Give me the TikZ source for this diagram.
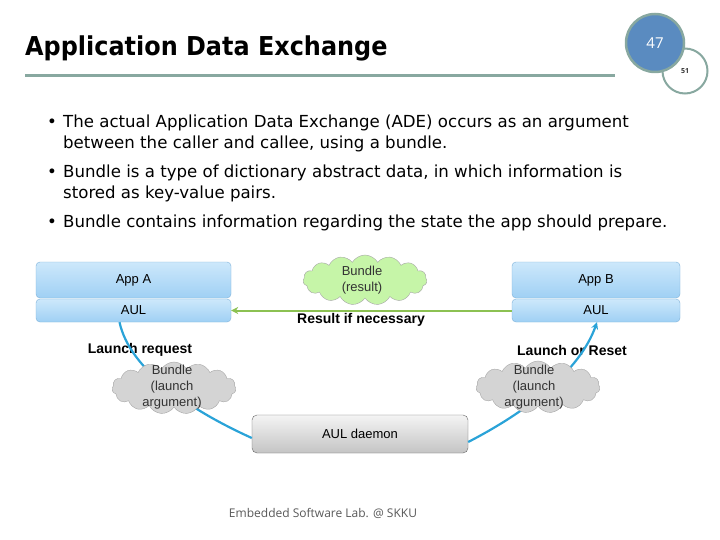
\documentclass[tikz,border=0pt]{standalone}
\usepackage{fontspec}
\usepackage{graphicx}
\setmainfont{DejaVu Sans}
\newfontfamily\diagfont{Liberation Sans}
\newfontfamily\footfont{Open Sans}
\usetikzlibrary{shapes.symbols,arrows.meta}
\definecolor{rulecol}{HTML}{88A8A0}
\definecolor{numblue}{HTML}{5A8BC0}
\definecolor{boxtop}{HTML}{CDE8FB}
\definecolor{boxbot}{HTML}{9FD0F4}
\definecolor{boxline}{HTML}{7FB2DA}
\definecolor{greytop}{HTML}{F4F4F4}
\definecolor{greybot}{HTML}{C4C4C4}
\definecolor{cloudgreen}{HTML}{C6F5A8}
\definecolor{cloudgrey}{HTML}{D4D4D4}
\definecolor{arrowgreen}{HTML}{8CC152}
\definecolor{curveblue}{HTML}{2AA3D8}
\tikzset{
	appbox/.style={draw=boxline,rounded corners=4pt,top color=boxtop,bottom color=boxbot,
		font=\diagfont\fontsize{13}{15}\selectfont,inner sep=0pt},
	daemonbox/.style={draw=gray!80!black,rounded corners=5pt,top color=greytop,bottom color=greybot,
		font=\diagfont\fontsize{13}{15}\selectfont,inner sep=0pt,minimum width=216pt,minimum height=38pt},
	bundle/.style={cloud,cloud puffs=15,cloud puff arc=120,cloud ignores aspect,draw=gray!70,inner sep=0pt,
		minimum width=124pt,minimum height=52pt},
	bundletext/.style={align=center,font=\diagfont\fontsize{13}{16}\selectfont,text=black!80},
	steplabel/.style={font=\diagfont\bfseries\fontsize{14}{16}\selectfont},
	bullet/.style={anchor=base west,inner sep=0pt,font=\fontsize{16.6}{19}\selectfont}
}
\begin{document}
\begin{tikzpicture}[x=1pt,y=-1pt]
	\useasboundingbox[fill=white] (0,0) rectangle (720,540);
	\node[anchor=base west,inner sep=0pt,font=\bfseries\fontsize{26}{28}\selectfont] (title) at (25,56)
		{\scalebox{0.92}[1]{Application Data Exchange}};
	\draw[rulecol,line width=3pt] (25,76) -- (615,76);
	\node[circle,draw=rulecol,line width=2pt,minimum size=45pt,inner sep=0pt,
		font=\footfont\bfseries\fontsize{7}{8}\selectfont,text=black!80] (pgB) at (685,71) {\raisebox{-2pt}{51}};
	\node[circle,draw=rulecol,line width=2.5pt,fill=numblue,minimum size=58pt,inner sep=0pt,
		font=\footfont\fontsize{15}{17}\selectfont,text=white] (pgA) at (655,43) {47};
	\foreach \x/\y/\txt in
	{47/128/{•},
	63/128/{The actual Application Data Exchange (ADE) occurs as an argument},
	63/149/{between the caller and callee, using a bundle.},
	47/178/{•},
	63/178/{Bundle is a type of dictionary abstract data, in which information is},
	63/199/{stored as key-value pairs.},
	47/228/{•},
	63/228/{Bundle contains information regarding the state the app should prepare.}}
		{\node[bullet] at (\x,\y) {\txt};}
	\node[appbox,minimum width=195pt,minimum height=36pt] (appA) at (133.5,280) {App A};
	\node[appbox,minimum width=195pt,minimum height=23pt] (aulA) at (133.5,310.5) {AUL};
	\node[appbox,minimum width=168pt,minimum height=36pt] (appB) at (596,280) {App B};
	\node[appbox,minimum width=168pt,minimum height=23pt] (aulB) at (596,310.5) {AUL};
	\node[daemonbox] (daemon) at (360,434) {AUL daemon};
	\node[steplabel] (resLabel) at (361,320) {Result if necessary};
	\node[steplabel] (reqLabel) at (140,350) {Launch request};
	\node[steplabel] (rstLabel) at (572,350) {Launch or Reset};
	\draw[arrowgreen,line width=2pt,-{Stealth[length=7pt,width=7pt]}] (aulB.west) -- (aulA.east);
	\draw[curveblue,line width=2.2pt] ([xshift=-14pt]aulA.south) .. controls (130,370) and (190,410) .. ([yshift=-4pt]daemon.west);
	\draw[curveblue,line width=2.2pt,-{Stealth[length=7pt,width=7pt]}] ([yshift=-8pt]daemon.east)
		.. controls (530,410) and (580,370) .. ([xshift=1pt]aulB.south);
	\node[bundle,fill=cloudgreen,minimum height=50pt] (resBundle) at (365,280) {};
	\node[bundle,fill=cloudgrey] (reqBundle) at (174,388) {};
	\node[bundle,fill=cloudgrey] (rstBundle) at (538,387) {};
	\node[bundletext] at (362,280) {Bundle\\(result)};
	\node[bundletext] at (172,387) {Bundle\\(launch\\argument)};
	\node[bundletext] at (534,387) {Bundle\\(launch\\argument)};
	\node[font=\footfont\fontsize{12}{14}\selectfont,text=black!65] (footer) at (323,513)
		{Embedded Software Lab. @ SKKU};
\end{tikzpicture}
\end{document}
